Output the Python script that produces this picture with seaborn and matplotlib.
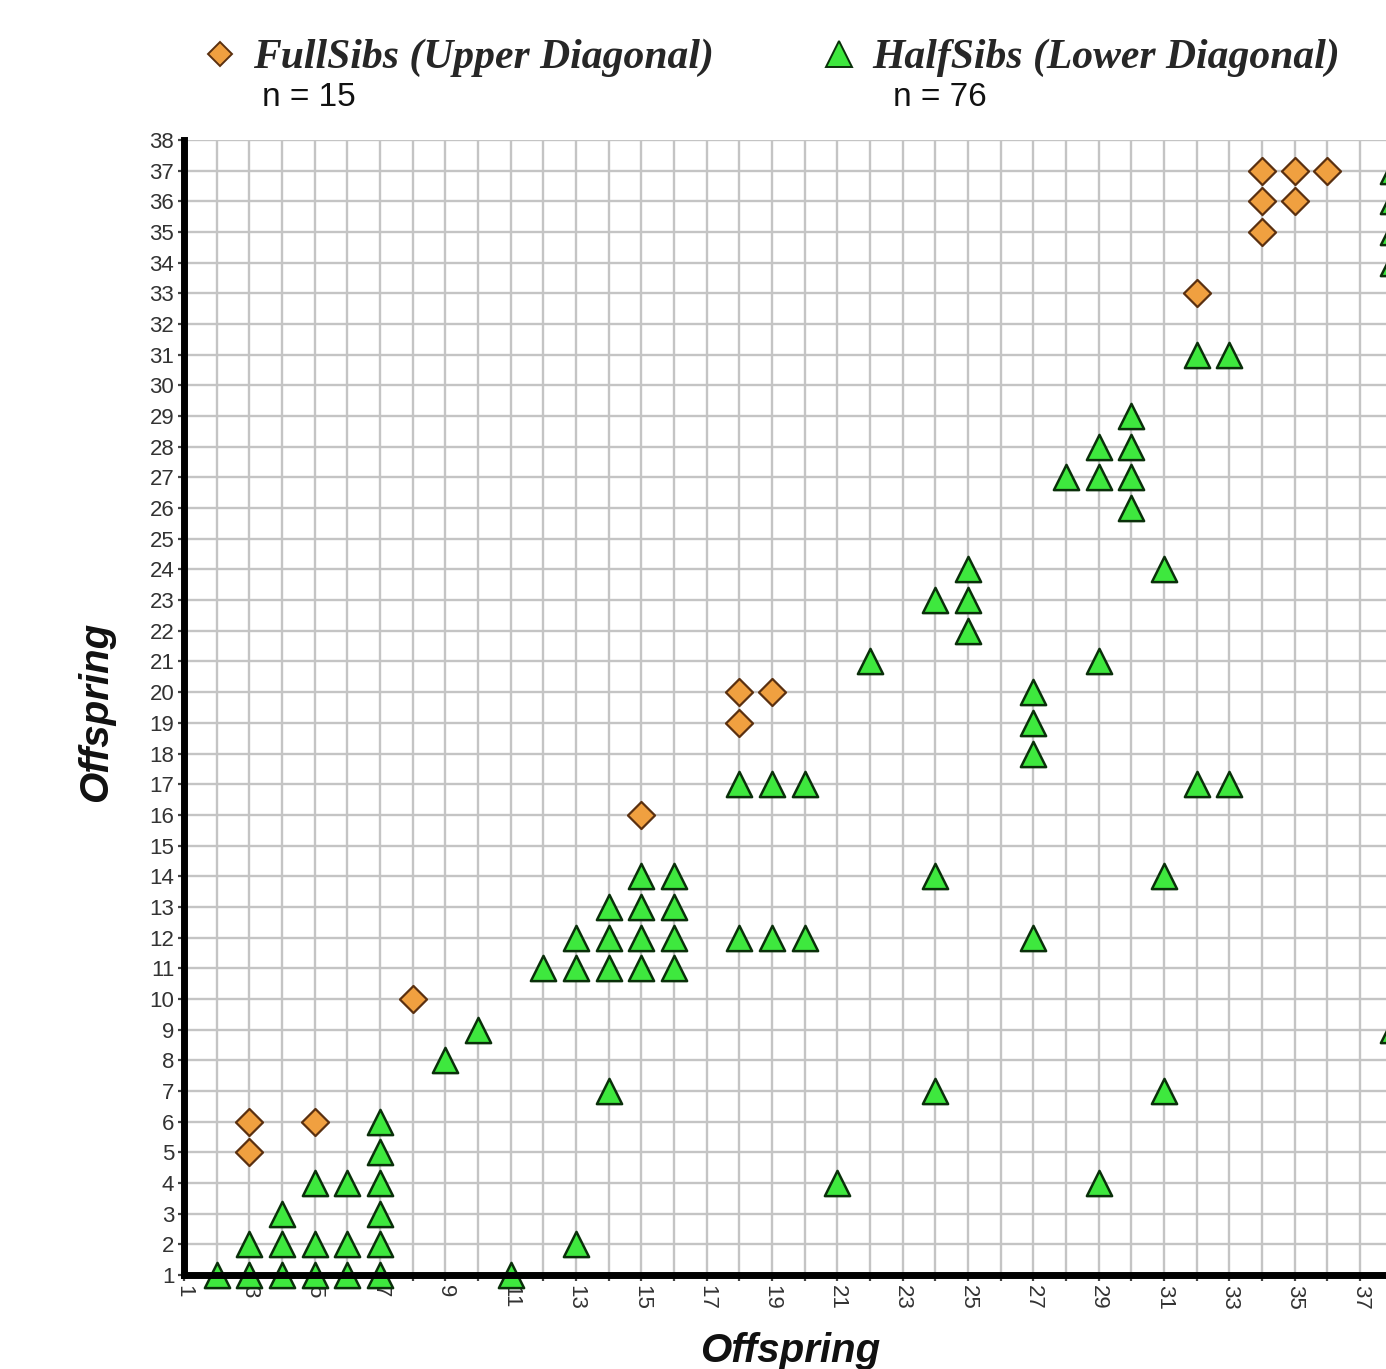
import matplotlib
matplotlib.use("Agg")
import matplotlib.pyplot as plt
import seaborn as sns
import pandas as pd
from matplotlib.lines import Line2D

# ---- data ----
full_x = [3, 3, 5, 8, 15, 18, 18, 19, 32, 34, 35, 36, 34, 35, 34]
full_y = [6, 5, 6, 10, 16, 20, 19, 20, 33, 37, 37, 37, 36, 36, 35]

half_x = [2, 3, 4, 5, 6, 7, 11,
          3, 4, 5, 6, 7, 13,
          4, 7,
          5, 6, 7, 21, 29,
          7,
          7,
          14, 24, 31,
          9,
          10, 38,
          12, 13, 14, 15, 16,
          13, 14, 15, 16, 18, 19, 20, 27,
          14, 15, 16,
          15, 16, 24, 31,
          18, 19, 20, 32, 33,
          27,
          27,
          27,
          22, 29,
          25,
          24, 25,
          25, 31,
          30,
          28, 29, 30,
          29, 30,
          30,
          32, 33,
          38, 38, 38, 38]
half_y = [1, 1, 1, 1, 1, 1, 1,
          2, 2, 2, 2, 2, 2,
          3, 3,
          4, 4, 4, 4, 4,
          5,
          6,
          7, 7, 7,
          8,
          9, 9,
          11, 11, 11, 11, 11,
          12, 12, 12, 12, 12, 12, 12, 12,
          13, 13, 13,
          14, 14, 14, 14,
          17, 17, 17, 17, 17,
          18,
          19,
          20,
          21, 21,
          22,
          23, 23,
          24, 24,
          26,
          27, 27, 27,
          28, 28,
          29,
          31, 31,
          34, 35, 36, 37]

full_label = "FullSibs (Upper Diagonal)"
half_label = "HalfSibs (Lower Diagonal)"
full_n = "n = 15"
half_n = "n = 76"
x_ticks = list(range(1, 39))
y_ticks = list(range(1, 39))
x_labels = [str(v) if v % 2 == 1 else "" for v in x_ticks]
y_labels = [str(v) for v in y_ticks]

full_df = pd.DataFrame({"x": full_x, "y": full_y})
half_df = pd.DataFrame({"x": half_x, "y": half_y})

sns.set_theme(style="white")
plt.rcParams["font.family"] = ["Liberation Sans", "DejaVu Sans"]

fig = plt.figure(figsize=(13.86, 13.69), dpi=100)
ax = fig.add_axes([0.1328, 0.0687, 0.8957, 0.829])

orange = "#f0a040"
orange_edge = "#5a3010"
green = "#3ee83e"
green_edge = "#0a300a"

sns.scatterplot(data=half_df, x="x", y="y", ax=ax, marker="^", s=330,
                color=green, edgecolor=green_edge, linewidth=1.8,
                clip_on=False, zorder=1, legend=False)
sns.scatterplot(data=full_df, x="x", y="y", ax=ax, marker="D", s=190,
                color=orange, edgecolor=orange_edge, linewidth=1.6,
                clip_on=False, zorder=1, legend=False)

ax.set_xlim(1, 39)
ax.set_ylim(1, 38)
ax.set_xticks(x_ticks)
ax.set_xticklabels(x_labels, rotation=-90, fontsize=16, color="#333333")
ax.set_yticks(y_ticks)
ax.set_yticklabels(y_labels, fontsize=16, color="#333333")
ax.tick_params(axis="both", direction="out", length=4, width=1.6,
               color="#444444", pad=3, bottom=True, left=True)

ax.grid(True, color="#c4c4c4", linewidth=1.7)
ax.set_axisbelow(True)
for side in ["top", "right"]:
    ax.spines[side].set_visible(False)
for side in ["left", "bottom"]:
    ax.spines[side].set_color("black")
    ax.spines[side].set_linewidth(5)
    ax.spines[side].set_zorder(3)

ax.set_xlabel("Offspring", fontsize=29, fontstyle="italic", fontweight="bold",
              color="#111111")
ax.set_ylabel("Offspring", fontsize=29, fontstyle="italic", fontweight="bold",
              color="#111111")
ax.xaxis.set_label_coords(0.488, -0.050)
ax.yaxis.set_label_coords(-0.056, 0.496)

handles = [
    Line2D([], [], linestyle="none", marker="D", markersize=12,
           markerfacecolor=orange, markeredgecolor=orange_edge,
           markeredgewidth=1.4, label=full_label),
    Line2D([], [], linestyle="none", marker="^", markersize=19,
           markerfacecolor=green, markeredgecolor=green_edge,
           markeredgewidth=1.4, label=half_label),
]
fig.legend(handles=handles, loc="upper left",
           bbox_to_anchor=(203 / 1386, 1 - 39 / 1369), ncol=2,
           frameon=False, borderpad=0, borderaxespad=0,
           handlelength=0.8, handletextpad=0.4, columnspacing=2.6,
           prop={"family": "Liberation Serif", "style": "italic",
                 "weight": "bold", "size": 30})

fig.text(262 / 1386, 1 - 97 / 1369, full_n, fontsize=24, color="#111111",
         ha="left", va="center")
fig.text(893 / 1386, 1 - 97 / 1369, half_n, fontsize=24, color="#111111",
         ha="left", va="center")

fig.savefig("out.png", dpi=100)
